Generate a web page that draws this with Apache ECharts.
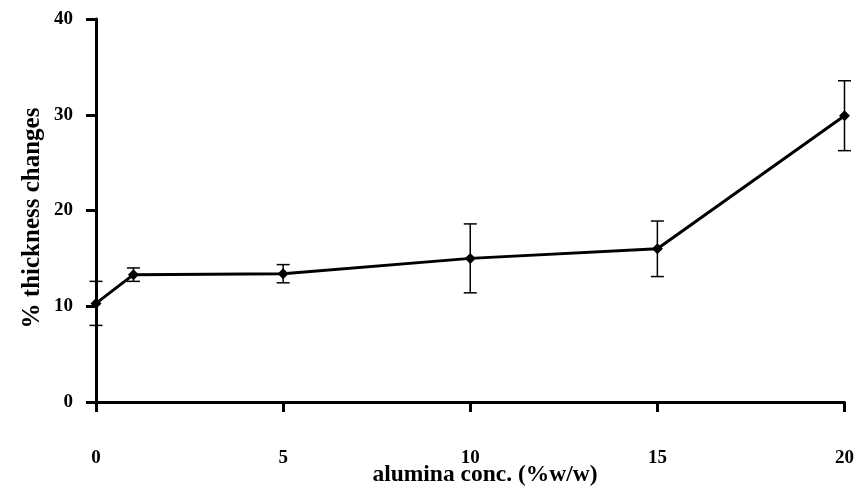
<!DOCTYPE html>
<html>
<head>
<meta charset="utf-8">
<script src="https://cdn.jsdelivr.net/npm/echarts@6/dist/echarts.min.js"></script>
<style>html,body{margin:0;padding:0;background:#fff;overflow:hidden}#c{width:857px;height:488px}</style>
</head>
<body>
<div id="c"></div>
<script>
var xValues = [0, 1, 5, 10, 15, 20];
var meanValues = [10.3, 13.3, 13.4, 15.0, 16.0, 29.9];
var errValues = [2.3, 0.7, 0.95, 3.6, 2.9, 3.65];
var xTicks = [0, 5, 10, 15, 20];
var yTicks = [0, 10, 20, 30, 40];
var xTitle = 'alumina conc. (%w/w)';
var yTitle = '% thickness changes';

var lineData = xValues.map(function (x, i) { return [x, meanValues[i]]; });
var errData = xValues.map(function (x, i) { return [x, meanValues[i] - errValues[i], meanValues[i] + errValues[i]]; });

var font = '"Liberation Serif", "Times New Roman", serif';
var chart = echarts.init(document.getElementById('c'), null, { renderer: 'canvas', width: 857, height: 488 });
chart.setOption({
  animation: false,
  backgroundColor: '#fff',
  grid: { left: 96, width: 749, top: 19, height: 383, containLabel: false },
  graphic: [
    {
      type: 'text', x: 485, y: 475,
      style: { text: xTitle, fill: '#000', font: 'bold 23.5px ' + font, textAlign: 'center', textVerticalAlign: 'middle' }
    },
    {
      type: 'text', x: 33, y: 218, rotation: Math.PI / 2,
      style: { text: yTitle, fill: '#000', font: 'bold 25px ' + font, textAlign: 'center', textVerticalAlign: 'middle' }
    }
  ],
  xAxis: {
    type: 'value', min: 0, max: 20, interval: 5,
    axisLine: { show: true, lineStyle: { color: '#000', width: 3 } },
    axisTick: { show: true, inside: false, length: 10, lineStyle: { color: '#000', width: 3 } },
    axisLabel: { margin: 47, fontFamily: font, fontWeight: 'bold', fontSize: 19, color: '#000',
      formatter: function (v) { return xTicks.indexOf(v) >= 0 ? String(v) : ''; } },
    splitLine: { show: false }
  },
  yAxis: {
    type: 'value', min: 0, max: 40, interval: 10,
    axisLine: { show: true, lineStyle: { color: '#000', width: 3 } },
    axisTick: { show: true, inside: false, length: 10, lineStyle: { color: '#000', width: 3 } },
    axisLabel: { margin: 23, fontFamily: font, fontWeight: 'bold', fontSize: 19, color: '#000',
      formatter: function (v) { return yTicks.indexOf(v) >= 0 ? String(v) : ''; } },
    splitLine: { show: false }
  },
  series: [
    {
      type: 'custom',
      data: errData,
      z: 3,
      renderItem: function (params, api) {
        var x = api.value(0);
        var lo = api.coord([x, api.value(1)]);
        var hi = api.coord([x, api.value(2)]);
        var w = 6.5;
        var st = { stroke: '#000', lineWidth: 1.5 };
        return {
          type: 'group',
          children: [
            { type: 'line', shape: { x1: lo[0], y1: lo[1], x2: hi[0], y2: hi[1] }, style: st },
            { type: 'line', shape: { x1: lo[0] - w, y1: lo[1], x2: lo[0] + w, y2: lo[1] }, style: st },
            { type: 'line', shape: { x1: hi[0] - w, y1: hi[1], x2: hi[0] + w, y2: hi[1] }, style: st }
          ]
        };
      }
    },
    {
      type: 'line',
      data: lineData,
      z: 4,
      symbol: 'diamond',
      symbolSize: 11,
      lineStyle: { color: '#000', width: 3 },
      itemStyle: { color: '#000' }
    }
  ]
});
</script>
</body>
</html>
